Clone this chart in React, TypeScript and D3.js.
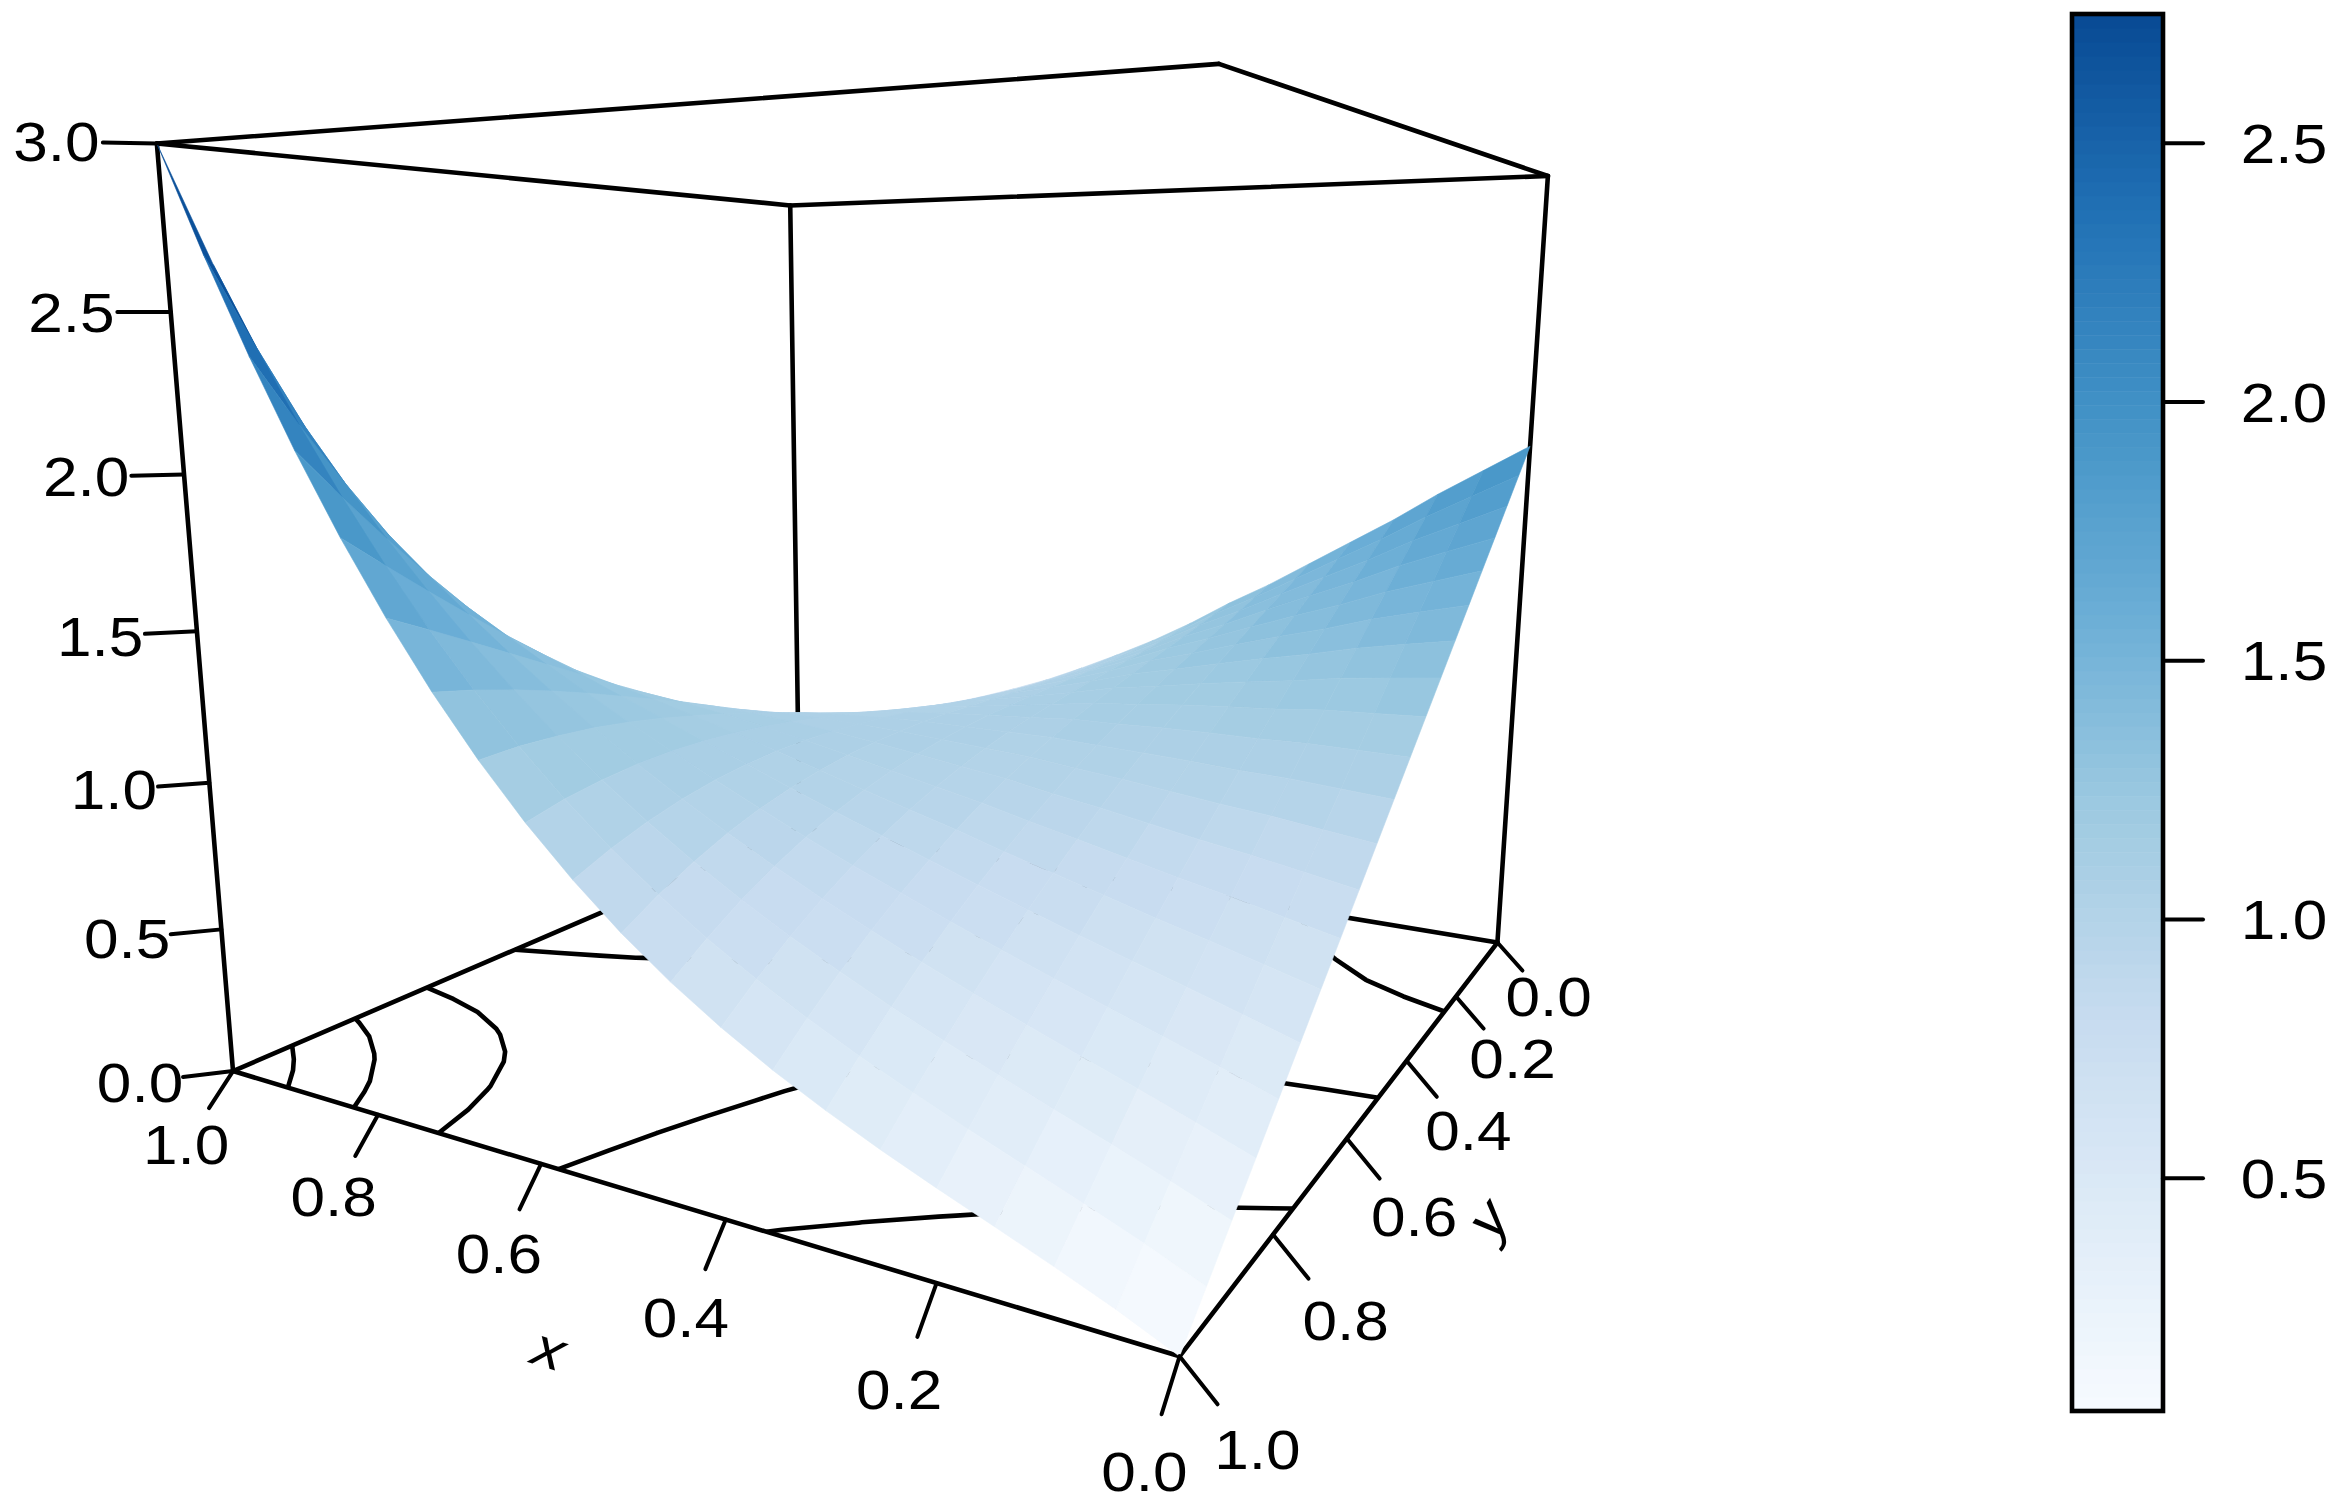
import React, { useEffect, useRef } from 'react';
import * as d3 from 'd3';

const width = 2351;
const height = 1508;

const gridX = [0, 0.05, 0.1, 0.15, 0.2, 0.25, 0.3, 0.35, 0.4, 0.45, 0.5, 0.55, 0.6, 0.65, 0.7, 0.75, 0.8, 0.85, 0.9, 0.95, 1];
const gridY = [0, 0.05, 0.1, 0.15, 0.2, 0.25, 0.3, 0.35, 0.4, 0.45, 0.5, 0.55, 0.6, 0.65, 0.7, 0.75, 0.8, 0.85, 0.9, 0.95, 1];

const surfaceZ = [
  [2.000, 1.900, 1.800, 1.690, 1.590, 1.490, 1.390, 1.300, 1.200, 1.110, 1.030, 0.955, 0.885, 0.825, 0.770, 0.720, 0.680, 0.640, 0.605, 0.580, 0.566],
  [1.900, 1.813, 1.726, 1.628, 1.539, 1.449, 1.359, 1.277, 1.184, 1.101, 1.025, 0.954, 0.886, 0.827, 0.772, 0.721, 0.678, 0.634, 0.593, 0.561, 0.539],
  [1.800, 1.726, 1.651, 1.566, 1.488, 1.409, 1.328, 1.255, 1.171, 1.094, 1.024, 0.957, 0.893, 0.836, 0.781, 0.728, 0.682, 0.634, 0.588, 0.548, 0.516],
  [1.700, 1.639, 1.576, 1.502, 1.436, 1.368, 1.297, 1.233, 1.158, 1.089, 1.026, 0.964, 0.904, 0.849, 0.795, 0.741, 0.693, 0.641, 0.590, 0.543, 0.501],
  [1.600, 1.550, 1.499, 1.438, 1.383, 1.326, 1.267, 1.212, 1.147, 1.086, 1.030, 0.974, 0.919, 0.867, 0.814, 0.761, 0.712, 0.657, 0.600, 0.546, 0.495],
  [1.500, 1.462, 1.422, 1.373, 1.330, 1.284, 1.235, 1.191, 1.135, 1.084, 1.036, 0.987, 0.936, 0.889, 0.839, 0.788, 0.737, 0.680, 0.620, 0.560, 0.501],
  [1.400, 1.373, 1.344, 1.307, 1.275, 1.240, 1.203, 1.169, 1.124, 1.082, 1.042, 1.000, 0.957, 0.914, 0.869, 0.820, 0.770, 0.712, 0.650, 0.586, 0.520],
  [1.300, 1.283, 1.266, 1.240, 1.219, 1.195, 1.169, 1.145, 1.111, 1.079, 1.048, 1.015, 0.979, 0.943, 0.902, 0.857, 0.810, 0.753, 0.691, 0.624, 0.554],
  [1.200, 1.193, 1.186, 1.171, 1.161, 1.149, 1.133, 1.120, 1.097, 1.075, 1.054, 1.030, 1.002, 0.973, 0.939, 0.899, 0.856, 0.803, 0.742, 0.676, 0.604],
  [1.100, 1.103, 1.105, 1.102, 1.102, 1.100, 1.095, 1.093, 1.081, 1.070, 1.059, 1.044, 1.026, 1.005, 0.979, 0.946, 0.909, 0.862, 0.806, 0.743, 0.673],
  [1.000, 1.012, 1.024, 1.030, 1.040, 1.048, 1.054, 1.062, 1.062, 1.061, 1.061, 1.057, 1.048, 1.038, 1.021, 0.997, 0.969, 0.930, 0.881, 0.825, 0.761],
  [0.900, 0.920, 0.941, 0.957, 0.976, 0.995, 1.011, 1.029, 1.039, 1.050, 1.060, 1.067, 1.070, 1.070, 1.064, 1.052, 1.035, 1.007, 0.969, 0.924, 0.870],
  [0.800, 0.829, 0.857, 0.882, 0.910, 0.938, 0.963, 0.991, 1.012, 1.034, 1.055, 1.074, 1.089, 1.101, 1.109, 1.110, 1.106, 1.092, 1.070, 1.040, 1.001],
  [0.700, 0.736, 0.772, 0.805, 0.841, 0.877, 0.912, 0.949, 0.981, 1.013, 1.046, 1.077, 1.105, 1.131, 1.153, 1.170, 1.183, 1.187, 1.184, 1.174, 1.156],
  [0.600, 0.643, 0.686, 0.726, 0.770, 0.813, 0.856, 0.902, 0.944, 0.987, 1.031, 1.075, 1.117, 1.158, 1.197, 1.232, 1.265, 1.291, 1.311, 1.326, 1.336],
  [0.500, 0.550, 0.599, 0.646, 0.695, 0.745, 0.796, 0.849, 0.901, 0.954, 1.010, 1.067, 1.124, 1.182, 1.239, 1.296, 1.351, 1.403, 1.452, 1.498, 1.541],
  [0.400, 0.456, 0.510, 0.563, 0.617, 0.673, 0.730, 0.791, 0.851, 0.915, 0.983, 1.053, 1.126, 1.202, 1.280, 1.360, 1.442, 1.524, 1.607, 1.690, 1.774],
  [0.300, 0.361, 0.420, 0.477, 0.536, 0.596, 0.659, 0.725, 0.794, 0.868, 0.947, 1.031, 1.121, 1.217, 1.318, 1.424, 1.537, 1.654, 1.776, 1.903, 2.035],
  [0.200, 0.266, 0.329, 0.389, 0.451, 0.515, 0.581, 0.653, 0.729, 0.812, 0.902, 1.001, 1.108, 1.225, 1.352, 1.488, 1.635, 1.792, 1.959, 2.137, 2.326],
  [0.100, 0.171, 0.236, 0.299, 0.362, 0.428, 0.497, 0.573, 0.655, 0.746, 0.848, 0.962, 1.088, 1.228, 1.382, 1.551, 1.736, 1.938, 2.156, 2.393, 2.647],
  [0.000, 0.075, 0.142, 0.206, 0.269, 0.335, 0.406, 0.484, 0.572, 0.671, 0.784, 0.913, 1.058, 1.222, 1.406, 1.612, 1.840, 2.092, 2.369, 2.671, 3.000],
];

const xTicks = [0, 0.2, 0.4, 0.6, 0.8, 1];
const yTicks = [0, 0.2, 0.4, 0.6, 0.8, 1];
const zTicks = [0, 0.5, 1, 1.5, 2, 2.5, 3];
const keyTicks = [0.5, 1, 1.5, 2, 2.5];
const contourLevels = [0.5, 1, 1.5, 2, 2.5];
const blues = ['#F7FBFF', '#DEEBF7', '#C6DBEF', '#9ECAE1', '#6BAED6', '#4292C6', '#2171B5', '#084A94'];
const zRange = [0.05, 2.75];

// box corners on the page (x, y, z, px, py), the perspective is fitted to them
const cornerFit: [number, number, number, number, number][] = [
  [1, 1, 0, 232.5, 1070], [0, 1, 0, 1180, 1357], [0, 0, 0, 1497, 942], [1, 0, 0, 800, 828],
  [1, 1, 3, 157, 144], [0, 1, 3, 1219, 64], [0, 0, 3, 1548, 176], [1, 0, 3, 790, 205],
];

function fitCamera() {
  const rows: number[][] = [];
  const rhs: number[] = [];
  cornerFit.forEach(([x, y, z, u, v]) => {
    const zz = z / 3;
    rows.push([x, y, zz, 1, 0, 0, 0, 0, -u * x, -u * y, -u * zz]); rhs.push(u);
    rows.push([0, 0, 0, 0, x, y, zz, 1, -v * x, -v * y, -v * zz]); rhs.push(v);
  });
  const n = 11;
  const m = d3.range(n).map(i => d3.range(n + 1).map(j => {
    if (j === n) return d3.sum(rows, (r, k) => r[i] * rhs[k]);
    return d3.sum(rows, r => r[i] * r[j]);
  }));
  for (let i = 0; i < n; i++) {
    let p = i;
    for (let k = i + 1; k < n; k++) if (Math.abs(m[k][i]) > Math.abs(m[p][i])) p = k;
    [m[i], m[p]] = [m[p], m[i]];
    for (let k = 0; k < n; k++) {
      if (k === i) continue;
      const f = m[k][i] / m[i][i];
      for (let j = i; j <= n; j++) m[k][j] -= f * m[i][j];
    }
  }
  return d3.range(n).map(i => m[i][n] / m[i][i]);
}

const cam = fitCamera();
const zUnit = d3.scaleLinear().domain([0, 3]).range([0, 1]);
const project = (x: number, y: number, z: number): [number, number] => {
  const zz = zUnit(z);
  const w = cam[8] * x + cam[9] * y + cam[10] * zz + 1;
  return [(cam[0] * x + cam[1] * y + cam[2] * zz + cam[3]) / w, (cam[4] * x + cam[5] * y + cam[6] * zz + cam[7]) / w];
};

const App = () => {
  const svgRef = useRef<SVGSVGElement>(null);

  useEffect(() => {
    const svg = d3.select(svgRef.current);
    svg.selectAll('*').remove();

    const ramp = d3.scaleLinear<string>()
      .domain(d3.range(8).map(i => zRange[0] + (i / 7) * (zRange[1] - zRange[0])))
      .range(blues)
      .interpolate(d3.interpolateRgb);
    const nColors = 100;
    const colors = d3.range(nColors).map(i => ramp(zRange[0] + ((i + 0.5) / nColors) * (zRange[1] - zRange[0])));
    const colorOf = d3.scaleQuantize<string>().domain(zRange).range(colors);

    const line = d3.line();
    const boxEdges = [
      [[1, 1, 0], [0, 1, 0]], [[0, 1, 0], [0, 0, 0]], [[0, 0, 0], [1, 0, 0]], [[1, 0, 0], [1, 1, 0]],
      [[1, 1, 3], [0, 1, 3]], [[0, 1, 3], [0, 0, 3]], [[0, 0, 3], [1, 0, 3]], [[1, 0, 3], [1, 1, 3]],
      [[1, 1, 0], [1, 1, 3]], [[0, 0, 0], [0, 0, 3]], [[1, 0, 0], [1, 0, 3]],
    ];
    const ink = svg.append('g').attr('fill', 'none').attr('stroke', '#000').attr('stroke-width', 4.6);
    ink.selectAll('path.edge').data(boxEdges).join('path').attr('class', 'edge')
      .attr('stroke-linecap', 'round')
      .attr('d', d => line(d.map(p => project(p[0], p[1], p[2]))));

    // contours on the floor, d3 puts grid values at cell centres and closes rings outside the grid
    const n = gridX.length;
    const contours = d3.contours().size([n, gridY.length]).thresholds(contourLevels)(surfaceZ.flat());
    const gx = d3.scaleLinear().domain([0.5, n - 0.5]).range([gridX[0], gridX[n - 1]]);
    const gy = d3.scaleLinear().domain([0.5, gridY.length - 0.5]).range([gridY[0], gridY[n - 1]]);
    const inside = (c: number) => c >= 0.5 - 1e-9 && c <= n - 0.5 + 1e-9;
    const contourLine = d3.line<number[]>()
      .defined(p => inside(p[0]) && inside(p[1]))
      .x(p => project(gx(p[0]), gy(p[1]), 0)[0])
      .y(p => project(gx(p[0]), gy(p[1]), 0)[1]);
    contours.forEach(c => {
      c.coordinates.forEach(poly => poly.forEach(ring => {
        ink.append('path').attr('stroke-linejoin', 'round').attr('d', contourLine(ring as number[][]));
      }));
    });

    // surface, back to front
    const facets: { pts: [number, number][]; mean: number }[] = [];
    for (let i = n - 2; i >= 0; i--) {
      for (let j = 0; j < n - 1; j++) {
        const zs = [surfaceZ[j][i], surfaceZ[j][i + 1], surfaceZ[j + 1][i + 1], surfaceZ[j + 1][i]];
        facets.push({
          mean: d3.mean(zs) as number,
          pts: [
            project(gridX[i], gridY[j], zs[0]), project(gridX[i + 1], gridY[j], zs[1]),
            project(gridX[i + 1], gridY[j + 1], zs[2]), project(gridX[i], gridY[j + 1], zs[3]),
          ],
        });
      }
    }
    svg.append('g').selectAll('path').data(facets).join('path')
      .attr('d', d => line(d.pts) + 'Z')
      .attr('fill', d => colorOf(d.mean))
      .attr('stroke', d => colorOf(d.mean))
      .attr('stroke-width', 0.6)
      .attr('stroke-linejoin', 'round');

    const axes = svg.append('g');
    const label = (x: number, y: number, t: string) =>
      axes.append('text')
        .attr('transform', `translate(${x},${y}) scale(1.13,1)`)
        .attr('text-anchor', 'middle').attr('dy', '0.355em')
        .attr('font-family', '"Liberation Sans", Arial, sans-serif').attr('font-size', 55)
        .text(t);
    const tick = (bx: number, by: number, dx: number, dy: number) =>
      axes.append('path').attr('d', line([[bx, by], [bx + dx, by + dy]]))
        .attr('stroke', '#000').attr('stroke-width', 4).attr('stroke-linecap', 'round');

    const xdx = d3.scaleLinear().domain([1, 0]).range([-24, -18]);
    const xdy = d3.scaleLinear().domain([1, 0]).range([37, 58]);
    xTicks.forEach(v => {
      const [bx, by] = project(v, 1, 0);
      tick(bx, by, xdx(v), xdy(v));
      label(bx + 1.95 * xdx(v), by + 1.98 * xdy(v), v.toFixed(1));
    });
    const ydx = d3.scaleLinear().domain([0, 1]).range([25, 38]);
    const ydy = d3.scaleLinear().domain([0, 1]).range([28, 48]);
    yTicks.forEach(v => {
      const [bx, by] = project(0, v, 0);
      tick(bx, by, ydx(v), ydy(v));
      label(bx + 2.05 * ydx(v), by + 1.94 * ydy(v), v.toFixed(1));
    });
    const zdx = d3.scaleLinear().domain([3, 0]).range([-54, -50]);
    const zdy = d3.scaleLinear().domain([3, 0]).range([-1, 6]);
    zTicks.forEach(v => {
      const [bx, by] = project(1, 1, v);
      tick(bx, by, zdx(v), zdy(v));
      label(bx + 1.86 * zdx(v), by + 1.9 * zdy(v), v.toFixed(1));
    });
    const title = (t: string, x: number, y: number, rot: number) =>
      axes.append('text')
        .attr('transform', `translate(${x},${y}) rotate(${rot}) scale(1.13,1)`)
        .attr('text-anchor', 'middle').attr('dy', '0.25em')
        .attr('font-family', '"Liberation Sans", Arial, sans-serif').attr('font-style', 'italic').attr('font-size', 55)
        .text(t);
    title('x', 548, 1354, 17);
    title('y', 1492, 1222, -55);

    // colour key
    const keyY = d3.scaleLinear().domain(zRange).range([1411, 14]);
    const key = svg.append('g');
    const step = (zRange[1] - zRange[0]) / nColors;
    const bandZ = d3.range(nColors).map(i => zRange[0] + i * step);
    key.selectAll('rect.band').data(bandZ).join('rect').attr('class', 'band')
      .attr('x', 2072).attr('width', 91)
      .attr('y', d => keyY(d + step))
      .attr('height', d => keyY(d) - keyY(d + step) + 0.5)
      .attr('fill', d => colorOf(d + step / 2));
    key.append('rect').attr('x', 2072).attr('y', 14).attr('width', 91).attr('height', 1397)
      .attr('fill', 'none').attr('stroke', '#000').attr('stroke-width', 4.6);
    keyTicks.forEach(v => {
      key.append('path').attr('d', line([[2163, keyY(v)], [2203, keyY(v)]]))
        .attr('stroke', '#000').attr('stroke-width', 4).attr('stroke-linecap', 'round');
      key.append('text')
        .attr('transform', `translate(2284,${keyY(v)}) scale(1.13,1)`)
        .attr('text-anchor', 'middle').attr('dy', '0.355em')
        .attr('font-family', '"Liberation Sans", Arial, sans-serif').attr('font-size', 55)
        .text(v.toFixed(1));
    });
  }, []);

  return <svg ref={svgRef} width={width} height={height} style={{ position: 'absolute', left: 0, top: 0, background: '#fff' }} />;
};

export default App;
